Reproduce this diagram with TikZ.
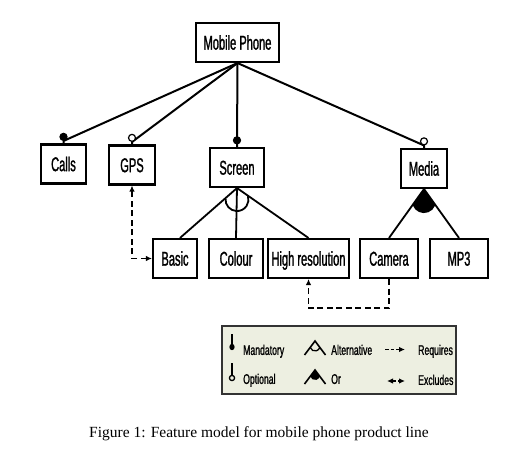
\documentclass[tikz,border=0pt]{standalone}
\usepackage{fontspec}
\setmainfont{Liberation Serif}
\newfontfamily\boxfont[FakeStretch=0.555,FakeBold=1.2]{Liberation Sans}
\newfontfamily\keyfont[FakeStretch=0.62,FakeBold=1]{Liberation Sans}
\usetikzlibrary{arrows.meta}
\definecolor{keybg}{RGB}{237,239,225}
\tikzset{
  feature/.style={draw,line width=2.1pt,fill=white,inner sep=0pt,
    minimum height=39pt,text height=16pt,text depth=1.7pt,
    font=\boxfont\fontsize{20}{24}\selectfont},
  link/.style={line width=2pt},
  mand/.style={circle,draw,fill=black,line width=1.2pt,inner sep=0pt,
    minimum size=7pt,anchor=south},
  opt/.style={mand,fill=white},
  group/.style={line width=1.8pt},
  dep/.style={line width=1.8pt,dash pattern=on 6pt off 3.5pt},
  keytext/.style={anchor=west,inner sep=0pt,text height=9.8pt,text depth=0pt,
    font=\keyfont\fontsize{14}{16}\selectfont},
}

\begin{document}
\begin{tikzpicture}[x=1pt,y=1pt,>={Latex[length=6pt,width=5.5pt]}]
\useasboundingbox (0,0) rectangle (520,-452);
% features
\node[feature,minimum width=83pt] (phone) at (237.5,-42.5) {Mobile Phone};
\foreach \name/\x/\y/\w/\txt in {calls/63.5/164/45/Calls, gps/132/165/46/GPS,
    screen/237/167.5/54/Screen, media/424/168.5/46/Media}
  \node[feature,minimum width=\w pt] (\name) at (\x,-\y) {\txt};
\foreach \name/\x/\w/\txt in {basic/175/44/Basic, colour/236/54/Colour,
    hires/308.5/81/High resolution, camera/389/58/Camera, mp3/459/58/MP3}
  \node[feature,minimum width=\w pt] (\name) at (\x,-258.5) {\txt};
% mandatory / optional
\draw[link] (phone.south) -- ([yshift=2.5pt]calls.north) node[mand]{} -- (calls.north);
\draw[link] (phone.south) -- ([yshift=2.5pt]gps.north) node[opt]{} -- (gps.north);
\draw[link] (phone.south) -- ([yshift=2.5pt]screen.north) node[mand]{} -- (screen.north);
\draw[link] (phone.south) -- ([yshift=2.5pt]media.north) node[opt]{} -- (media.north);
% alternative group
\draw[group] ([xshift=5pt]basic.north) -- (screen.south) -- (hires.north);
\draw[group] (screen.south) -- (colour.north);
\draw[group] ([yshift=-11.5pt]screen.south) ++(176:11.5) arc[start angle=176,end angle=378,radius=11.5];
% or group
\draw[group] (camera.north) -- (media.south) -- (mp3.north);
\fill (media.south) -- ++(235.5:19.8) arc[start angle=201,end angle=339,radius=12] -- cycle;
% cross-tree constraints
\draw[dep,<->] (basic.west) -| (gps.south);
\draw[dep,->] (camera.south) -- ++(0,-29) -| (hires.south);
% legend
\node[draw=black!80,line width=1.5pt,fill=keybg,minimum width=234pt,
  minimum height=68pt,inner sep=0pt] (key) at (339,-360) {};
\draw[line width=1.6pt] (232,-334) -- (232,-346);
\fill (232,-347) ellipse[x radius=2.6,y radius=3.2];
\draw[line width=1.6pt] (232,-363) -- (232,-375);
\draw[line width=1.3pt] (232,-378) circle[radius=2.6];
\node[keytext] (mandkey) at (243,-350) {Mandatory};
\node[keytext] (optkey) at (243,-379) {Optional};
\draw[line width=1.6pt] (304.5,-355) -- (315,-341) -- (325.5,-355);
\draw[line width=1.3pt] (315,-346) ++(196:5) arc[start angle=196,end angle=344,radius=5];
\draw[line width=1.6pt] (304.5,-384) -- (315,-370) -- (325.5,-384);
\fill (315,-370) -- ++(233.1:8) arc[start angle=196,end angle=344,radius=5] -- cycle;
\node[keytext] (altkey) at (331,-350) {Alternative};
\node[keytext] (orkey) at (331,-379) {Or};
\draw[line width=1.6pt,dash pattern=on 3.5pt off 2.2pt,->] (385,-349.5) -- (405,-349.5);
\draw[line width=1.6pt,dash pattern=on 3.5pt off 2.2pt,<->] (387,-381) -- (405,-381);
\node[keytext] (reqkey) at (418,-350) {Requires};
\node[keytext] (exckey) at (418,-380) {Excludes};
% caption
\node[font=\fontsize{15.5}{18}\selectfont,anchor=base,inner sep=0pt] (caption) at (259,-437)
  {Figure 1: Feature model for mobile phone product line};
\end{tikzpicture}
\end{document}
